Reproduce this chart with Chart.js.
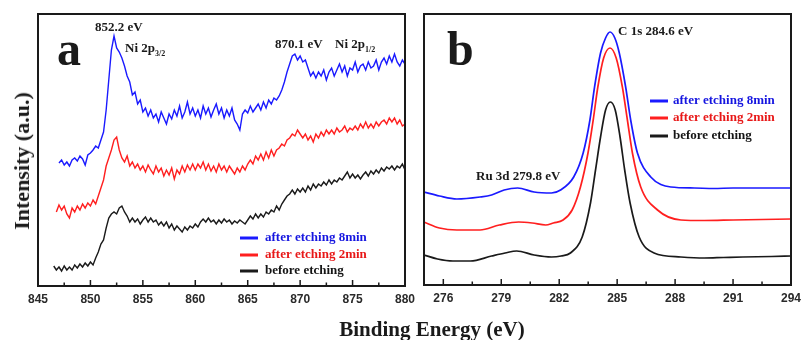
<!DOCTYPE html>
<html><head><meta charset="utf-8">
<script src="https://cdn.jsdelivr.net/npm/chart.js@4.4.1/dist/chart.umd.min.js"></script>
<style>
html,body{margin:0;padding:0;background:#fff;}
#wrap{position:relative;width:803px;height:340px;overflow:hidden;background:#fff;}
canvas{position:absolute;top:0;}
#ca{left:0;width:416px;height:340px;}
#cb{left:416px;width:387px;height:340px;}
.t{position:absolute;font-family:"Liberation Serif","Times New Roman",serif;font-weight:bold;color:#1a1a1a;white-space:nowrap;}
#xt{left:432px;top:319px;font-size:21px;line-height:21px;transform:translateX(-50%);}
#yt{left:22px;top:161px;font-size:22px;line-height:22px;transform:translate(-50%,-50%) rotate(-90deg);}
</style></head><body>
<div id="wrap">
<canvas id="ca" width="416" height="340"></canvas>
<canvas id="cb" width="387" height="340"></canvas>
<div class="t" id="xt">Binding Energy (eV)</div>
<div class="t" id="yt">Intensity (a.u.)</div>
</div>
<script>
// ---------- Panel a: Ni 2p (binding energy grid 846.5 .. 880, 0.25 eV) ----------
const energyA = Array.from({length:135}, (_, i) => 846.5 + i * 0.25);
const seriesLabels = ["after etching 8min", "after etching 2min", "before etching"];
const blueA = [null,null, 137,140,135,138, 134,140,142,139, 144,141,135,145, 147,150,154,152, 160,168,190,220, 250,264,252,248, 242,234,224,218, 205,208,196,200, 188,192,184,190, 182,186,178,188, 182,176,186,181, 190,184,194,182, 188,198,186,192, 184,190,182,194, 186,192,183,190, 196,186,192,182, 190,184,192,180, 176,170,186,190, 187,194,188,192, 196,190,198,192, 200,196,202,200, 204,210,218,228, 236,244,246,240, 244,238,240,232, 224,228,222,228, 224,230,220,228, 232,224,230,236, 228,234,224,232, 230,238,228,234, 236,230,238,232, 234,240,230,238, 242,236,244,238, 246,238,234,240, 236];
const redA = [null, 88, 95,90,94,86, 82,92,88,94, 90,96,92,97, 94,100,96,104, 112,120,134,142, 150,160,163,150, 142,138,144,134, 138,132,136,130, 134,128,135,130, 126,134,128,132, 124,130,125,132, 121,130,126,134, 128,135,130,136, 130,136,132,138, 130,136,129,134, 128,136,130,134, 128,134,130,126, 132,128,134,130, 136,140,136,144, 140,146,140,148, 142,150,144,150, 152,156,154,160, 162,166,164,170, 166,162,166,160, 164,158,166,162, 168,164,170,166, 170,166,172,168, 170,174,168,172, 170,174,170,176, 172,178,172,176, 172,178,174,178, 180,176,182,178, 182,176,180,174, 176];
const blackA = [34,30, 33,29,34,30, 33,30,35,32, 36,33,37,34, 38,35,42,48, 56,60,72,82, 86,88,86,92, 94,88,84,78, 82,78,81,76, 80,83,78,82, 78,80,75,78, 74,78,72,76, 70,74,71,68, 73,70,74,72, 76,73,78,81, 78,82,78,80, 76,80,77,81, 78,80,76,79, 77,80,78,76, 80,84,81,86, 82,86,83,88, 86,90,88,94, 90,96,100,104, 106,110,106,111, 108,112,108,114, 110,116,112,116, 114,118,115,120, 116,120,118,122, 120,124,128,122, 126,122,125,121, 125,128,124,129, 126,130,127,132, 129,133,131,134, 130,134,132,136, 130];
const ticksA = [845, 850, 855, 860, 865, 870, 875, 880];
const minorA = [847.5, 852.5, 857.5, 862.5, 867.5, 872.5, 877.5];

// ---------- Panel b: C 1s / Ru 3d ----------
const energyBblue = [275.0,275.8,276.7,277.9,278.5,279.15,279.85,280.7,281.6,282.07,282.75,283.24,283.59,283.83,284.14,284.4,284.63,284.88,285.11,285.44,285.70,286.05,286.74,287.78,289,290,291,292,293,294];
const blueB = [108,104,101,103,105,110,112,108,107,110,123,147,180,213,247,262,268,262,247,213,180,147,123,113,112,111.5,112,112,112,112];
const energyBred = [275.0,275.8,276.7,277.9,278.9,279.9,280.6,281.3,281.7,282.2,282.67,283.1,283.49,283.76,284.0,284.3,284.63,284.95,285.27,285.53,285.79,286.22,287.09,288.3,289.5,291,292.5,294];
const redB = [78,72,70,70,75,78,77,75,77,80,90,113,147,180,213,242,252,242,213,180,147,113,90,80,79.5,80,80.5,81];
const energyBblack = [275.0,275.7,276.5,277.4,278.5,279.2,279.8,280.7,281.6,282.1,282.58,283.19,283.62,283.88,284.14,284.4,284.65,284.9,285.15,285.39,285.67,286.14,286.91,288.3,289.5,290.5,291.5,293,294];
const blackB = [45,41,39,39,44,47,49,45,43,44,47,63,97,130,163,190,198,190,163,130,97,63,47,43,42,42.5,43,43.5,44];
const ticksB = [276, 279, 282, 285, 288, 291, 294];
const minorB = [277.5, 280.5, 283.5, 286.5, 289.5, 292.5];

const COLORS = ["#1a1aff", "#ff1f1f", "#1a1a1a"];
const TEXTCOLORS = ["#1515e0", "#e81818", "#151515"];
const SERIF = '"Liberation Serif","Times New Roman",serif';

const pts = (xs, ys) => xs.map((x, i) => ({x, y: ys[i]}));

const framePlugin = {
  id: 'frame',
  afterDatasetsDraw(chart, args, o) {
    const {ctx, chartArea: a, scales: {x}} = chart;
    ctx.save();
    ctx.strokeStyle = '#1a1a1a';
    ctx.lineWidth = 1.5;
    o.major.forEach(v => { const p = x.getPixelForValue(v); ctx.beginPath(); ctx.moveTo(p, a.bottom); ctx.lineTo(p, a.bottom - 6); ctx.stroke(); });
    o.minor.forEach(v => { const p = x.getPixelForValue(v); ctx.beginPath(); ctx.moveTo(p, a.bottom); ctx.lineTo(p, a.bottom - 3.5); ctx.stroke(); });
    ctx.lineWidth = 2;
    ctx.strokeRect(a.left, a.top, a.right - a.left, a.bottom - a.top);
    // legend
    const L = o.legend;
    chart.data.datasets.forEach((d, i) => {
      const y = L.y[i];
      ctx.strokeStyle = d.borderColor; ctx.lineWidth = 3;
      ctx.beginPath(); ctx.moveTo(L.x0, y); ctx.lineTo(L.x1, y); ctx.stroke();
      ctx.fillStyle = TEXTCOLORS[i];
      ctx.font = 'bold 13px ' + SERIF;
      ctx.textBaseline = 'middle'; ctx.textAlign = 'left';
      ctx.fillText(d.label, L.tx, y);
    });
    // annotations
    ctx.fillStyle = '#1a1a1a';
    o.texts.forEach(t => {
      ctx.font = 'bold ' + t.size + 'px ' + SERIF;
      ctx.textBaseline = t.base || 'middle'; ctx.textAlign = 'left';
      ctx.fillText(t.s, t.x, t.y);
      if (t.sub) {
        const w = ctx.measureText(t.s).width;
        ctx.font = 'bold 8px ' + SERIF;
        ctx.fillText(t.sub, t.x + w, t.y + 5);
      }
    });
    ctx.restore();
  }
};

function makeChart(id, datasets, xmin, xmax, ymin, ymax, ticks, minor, pad, legend, texts, smooth) {
  return new Chart(document.getElementById(id), {
    type: 'line',
    data: {datasets: datasets.map((d, i) => ({
      label: seriesLabels[i], data: d, borderColor: COLORS[i], borderWidth: smooth ? 1.7 : 1.4,
      pointRadius: 0, fill: false, tension: 0, spanGaps: false,
      cubicInterpolationMode: smooth ? 'monotone' : 'default'
    }))},
    options: {
      responsive: false, animation: false, events: [],
      layout: {padding: pad},
      plugins: {legend: {display: false}, tooltip: {enabled: false},
        frame: {major: ticks, minor: minor, legend: legend, texts: texts}},
      scales: {
        x: {type: 'linear', min: xmin, max: xmax,
          afterBuildTicks: s => { s.ticks = ticks.map(v => ({value: v})); },
          afterFit: s => { s.height = 54; s.paddingLeft = 0; s.paddingRight = 0; },
          grid: {display: false, drawTicks: false}, border: {display: false},
          ticks: {autoSkip: false, maxRotation: 0, padding: 6, color: '#2a2a2a',
            font: {family: '"Liberation Sans", Arial, sans-serif', weight: 'bold', size: 12}}},
        y: {display: false, min: ymin, max: ymax}
      }
    },
    plugins: [framePlugin]
  });
}

makeChart('ca',
  [pts(energyA, blueA), pts(energyA, redA), pts(energyA, blackA)],
  845, 880, 14, 286, ticksA, minorA,
  {left: 38, right: 11, top: 14, bottom: 0},
  {x0: 240, x1: 258, tx: 265, y: [238, 255, 271]},
  [
    {s: 'a', x: 57, y: 65, size: 48, base: 'alphabetic'},
    {s: '852.2 eV', x: 95, y: 28, size: 13},
    {s: 'Ni 2p', x: 125, y: 49, size: 13, sub: '3/2'},
    {s: '870.1 eV', x: 275, y: 45, size: 13},
    {s: 'Ni 2p', x: 335, y: 45, size: 13, sub: '1/2'}
  ], false);

makeChart('cb',
  [pts(energyBblue, blueB), pts(energyBred, redB), pts(energyBblack, blackB)],
  275, 294, 15, 286, ticksB, minorB,
  {left: 8, right: 12, top: 14, bottom: 1},
  {x0: 234, x1: 252, tx: 257, y: [101, 118, 136]},
  [
    {s: 'b', x: 31, y: 65, size: 48, base: 'alphabetic'},
    {s: 'C 1s 284.6 eV', x: 202, y: 32, size: 13},
    {s: 'Ru 3d 279.8 eV', x: 60, y: 177, size: 13}
  ], true);
</script>
</body></html>
